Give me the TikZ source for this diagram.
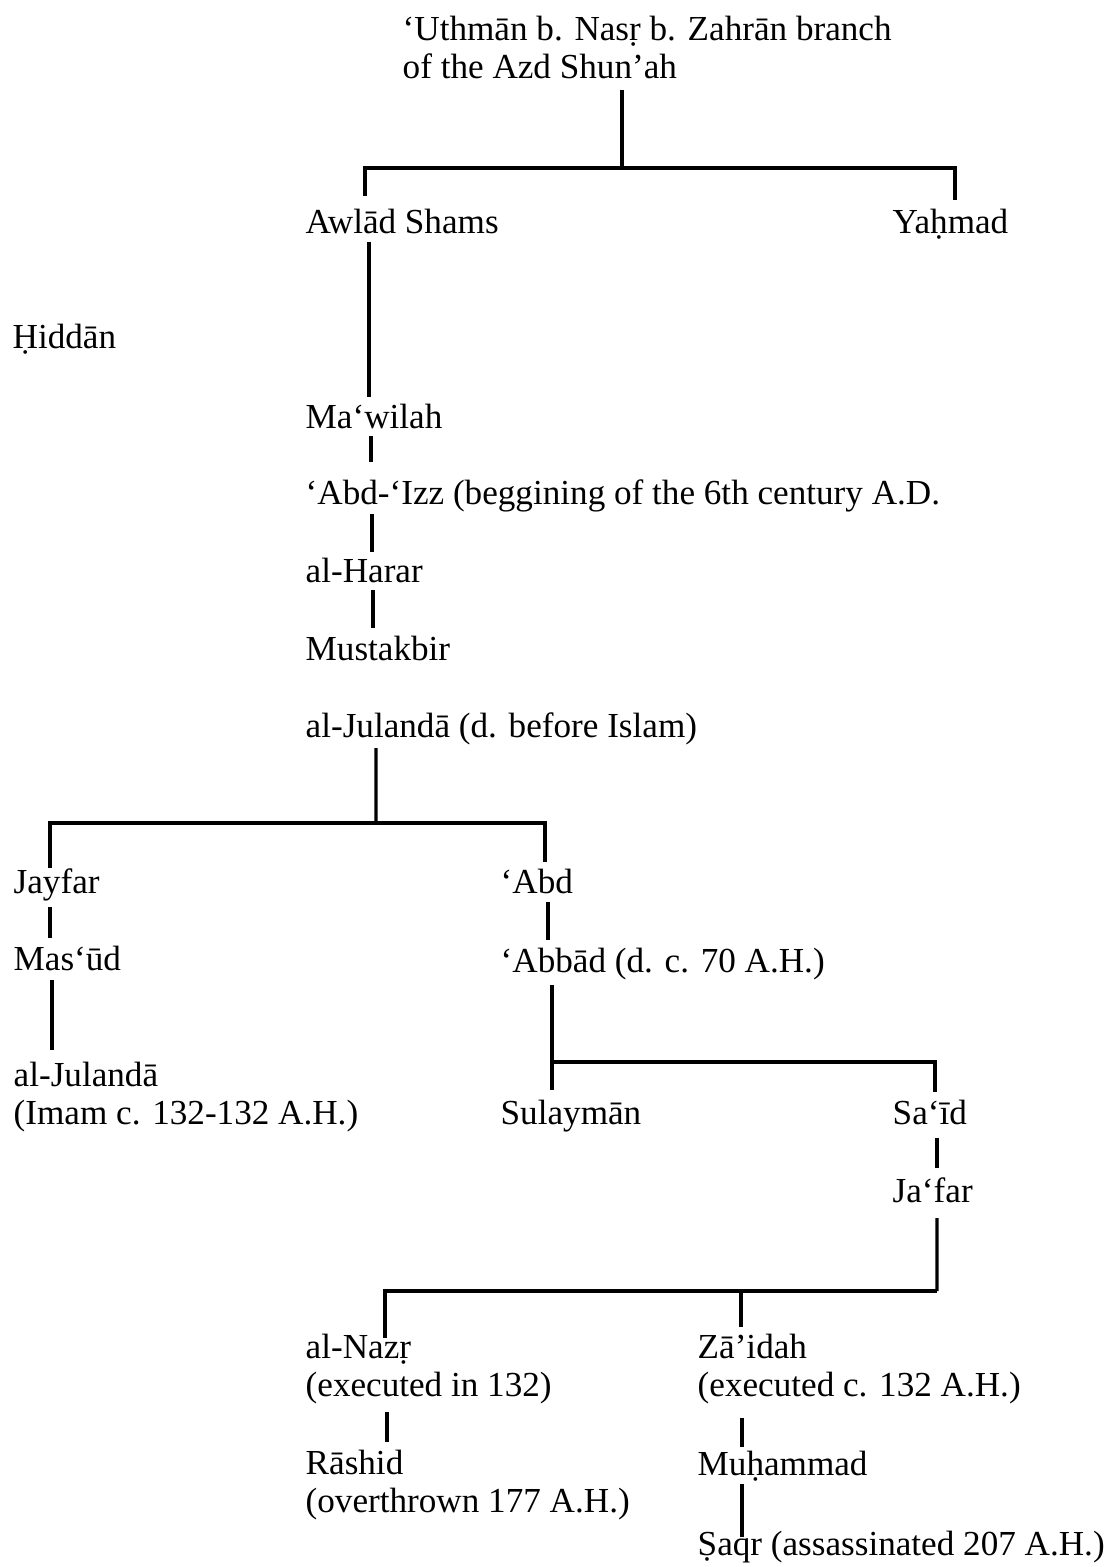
\documentclass[tikz,border=0pt]{standalone}
\usepackage{fontspec}
\setmainfont{Liberation Serif}
\usetikzlibrary{positioning,calc}
\tikzset{kin/.style={anchor=base west, inner sep=0pt, align=left},
         stem/.style={draw, line width=0.9pt}}

\begin{document}
\begin{tikzpicture}[font=\fontsize{10}{10.8}\selectfont]
      \useasboundingbox (0, 0) rectangle (11.14, -15.67);
      %nodes
      \node[kin] (top) at (4.02, -0.78) {‘Uthmān b. Nasṛ b. Zahrān branch\\of the Azd Shun’ah};
      \node[kin] (awlad) at (3.05, -2.33) {Awlād Shams};
      \node[kin] (yahmad) at (8.92, -2.33) {Yaḥmad};
      \node[kin] (hiddan) at (0.12, -3.48) {Ḥiddān};
      \node[kin] (mawilah) at (3.05, -4.28) {Ma‘wilah};
      \node[kin] (abdizz) at (3.05, -5.04) {‘Abd-‘Izz (beggining of the 6th century A.D.};
      \node[kin] (harar) at (3.05, -5.82) {al-Harar};
      \node[kin] (mustakbir) at (3.05, -6.60) {Mustakbir};
      \node[kin] (julanda) at (3.05, -7.37) {al-Julandā (d. before Islam)};
      \node[kin] (jayfar) at (0.13, -8.93) {Jayfar};
      \node[kin] (masud) at (0.13, -9.70) {Mas‘ūd};
      \node[kin] (julandb) at (0.13, -11.24) {al-Julandā\\(Imam c. 132-132 A.H.)};
      \node[kin] (abd) at (5.00, -8.93) {‘Abd};
      \node[kin] (abbad) at (5.00, -9.72) {‘Abbād (d. c. 70 A.H.)};
      \node[kin] (sulayman) at (5.00, -11.24) {Sulaymān};
      \node[kin] (said) at (8.92, -11.24) {Sa‘īd};
      \node[kin] (jafar) at (8.92, -12.02) {Ja‘far};
      \node[kin] (nazr) at (3.05, -13.96) {al-Nazṛ\\(executed in 132)};
      \node[kin] (rashid) at (3.05, -15.12) {Rāshid\\(overthrown 177 A.H.)};
      \node[kin] (zaidah) at (6.97, -13.96) {Zā’idah\\(executed c. 132 A.H.)};
      \node[kin] (muhammad) at (6.97, -14.75) {Muḥammad};
      \node[kin] (saqr) at (6.97, -15.55) {Ṣaqr (assassinated 207 A.H.)};
      \coordinate (forka) at (6.22, -1.68);
      \coordinate (forkb) at (3.76, -8.23);
      \coordinate (forkc) at (5.52, -10.62);
      \coordinate (forkd) at (9.37, -12.91);
      %edges
      \path[stem] ([shift={(2.20, -0.12)}]top.base west) -- (forka);
      \path[stem] ([shift={(0.60, 0.37)}]awlad.base west) |- (forka) -| ([shift={(0.63, 0.33)}]yahmad.base west);
      \path[stem] ([shift={(0.64, -0.09)}]awlad.base west) -- ([shift={(0.64, 0.31)}]mawilah.base west);
      \path[stem] ([shift={(0.66, -0.08)}]mawilah.base west) -- ([shift={(0.66, 0.42)}]abdizz.base west);
      \path[stem] ([shift={(0.67, -0.10)}]abdizz.base west) -- ([shift={(0.67, 0.30)}]harar.base west);
      \path[stem] ([shift={(0.68, -0.08)}]harar.base west) -- ([shift={(0.68, 0.32)}]mustakbir.base west);
      \path[stem] ([shift={(0.71, -0.11)}]julanda.base west) -- (forkb);
      \path[stem] ([shift={(0.37, 0.25)}]jayfar.base west) |- (forkb) -| ([shift={(0.45, 0.31)}]abd.base west);
      \path[stem] ([shift={(0.37, -0.14)}]jayfar.base west) -- ([shift={(0.37, 0.32)}]masud.base west);
      \path[stem] ([shift={(0.39, -0.10)}]masud.base west) -- ([shift={(0.39, 0.74)}]julandb.base west);
      \path[stem] ([shift={(0.48, -0.09)}]abd.base west) -- ([shift={(0.48, 0.32)}]abbad.base west);
      \path[stem] ([shift={(0.52, -0.13)}]abbad.base west) -- ([shift={(0.52, 0.34)}]sulayman.base west);
      \path[stem] (forkc) -| ([shift={(0.43, 0.32)}]said.base west);
      \path[stem] ([shift={(0.45, -0.14)}]said.base west) -- ([shift={(0.45, 0.34)}]jafar.base west);
      \path[stem] ([shift={(0.45, -0.16)}]jafar.base west) -- (forkd);
      \path[stem] ([shift={(0.80, 0.58)}]nazr.base west) |- (forkd);
      \path[stem] ([shift={(0.44, 0.69)}]zaidah.base west) -- ++(0, 0.36);
      \path[stem] ([shift={(0.82, -0.16)}]nazr.base west) -- ([shift={(0.82, 0.70)}]rashid.base west);
      \path[stem] ([shift={(0.45, -0.22)}]zaidah.base west) -- ([shift={(0.45, 0.28)}]muhammad.base west);
      \path[stem] ([shift={(0.45, -0.09)}]muhammad.base west) -- ([shift={(0.45, 0.18)}]saqr.base west);
    \end{tikzpicture}
\end{document}
